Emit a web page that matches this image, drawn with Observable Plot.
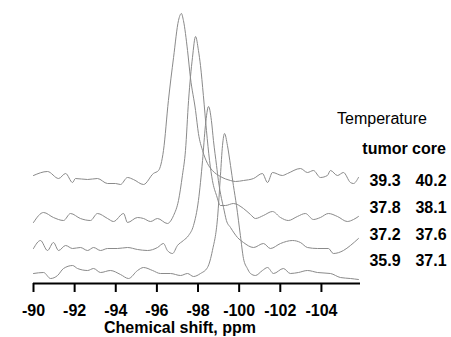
<!DOCTYPE html>
<html>
<head>
<meta charset="utf-8">
<script src="https://cdn.jsdelivr.net/npm/d3@7"></script>
<script src="https://cdn.jsdelivr.net/npm/@observablehq/plot@0.6"></script>
<style>
  body { margin: 0; background: #fff; }
  #chart svg { display: block; }
  #chart svg [aria-label="x-axis tick label"] text { font-weight: bold; font-size: 16px; }
</style>
</head>
<body>
<div id="chart"></div>
<script>
// Chemical shift ticks (ppm)
const tickValues = [-90, -92, -94, -96, -98, -100, -102, -104];

// Temperature labels (tumor / core), top trace to bottom trace
const tumorTemps = ["39.3", "37.8", "37.2", "35.9"];
const coreTemps  = ["40.2", "38.1", "37.6", "37.1"];
const seriesNames = ["39.3/40.2", "37.8/38.1", "37.2/37.6", "35.9/37.1"];

// Vertical stacking offsets of each spectrum (arbitrary intensity units)
const stackOffsets = [106, 66, 36, 11];

// Spectrum 1 (tumor 39.3, core 40.2)
const shift1 = [-90.00,-90.68,-91.22,-91.56,-91.90,-92.04,-92.63,-93.11,-93.60,-93.99,-94.23,-94.57,-94.86,-95.35,-95.83,-96.08,-96.32,-96.56,-96.81,-97.05,-97.19,-97.29,-97.49,-97.63,-97.88,-98.02,-98.22,-98.46,-98.70,-99.09,-99.58,-99.82,-100.21,-100.70,-101.13,-101.38,-101.62,-102.10,-102.35,-102.98,-103.32,-103.61,-103.95,-104.29,-104.44,-104.78,-105.07,-105.41,-105.56,-105.80];
const int1 = [2,6,-1,4,-5,-1,-2,-1,-6,-6,-7,0,-2,-7,4,7,27,77,120,157,164,157,127,100,67,44,27,14,7,1,-3,-4,-3,-1,4,-5,5,2,4,9,5,7,0,2,7,2,5,-5,-6,0];

// Spectrum 2 (tumor 37.8, core 38.1)
const shift2 = [-90.00,-90.49,-90.97,-91.46,-91.80,-92.28,-92.77,-93.11,-93.60,-93.89,-94.38,-94.57,-95.06,-95.35,-95.69,-96.03,-96.51,-96.81,-97.05,-97.24,-97.39,-97.54,-97.73,-97.88,-98.02,-98.12,-98.26,-98.41,-98.56,-98.70,-98.90,-99.09,-99.33,-99.72,-100.21,-100.55,-100.79,-101.18,-101.62,-102.01,-102.39,-102.83,-103.22,-103.61,-103.95,-104.34,-104.78,-105.26,-105.56,-105.80];
const int2 = [-5,5,0,-3,4,-1,-3,4,-1,-4,4,-5,0,-1,-4,-1,-6,2,17,42,67,117,160,181,167,152,122,87,57,37,22,12,12,14,9,3,-1,2,6,0,-3,1,4,-2,0,4,1,-4,-2,1];

// Spectrum 3 (tumor 37.2, core 37.6)
const shift3 = [-90.00,-90.34,-90.68,-90.97,-91.22,-91.56,-91.90,-92.28,-92.63,-92.92,-93.26,-93.60,-94.08,-94.57,-95.06,-95.54,-96.03,-96.32,-96.51,-96.76,-97.00,-97.29,-97.54,-97.78,-98.02,-98.22,-98.36,-98.51,-98.65,-98.75,-98.90,-98.99,-99.14,-99.24,-99.38,-99.58,-99.92,-100.21,-100.70,-101.18,-101.52,-102.01,-102.59,-102.98,-103.32,-103.81,-104.34,-104.58,-105.07,-105.41,-105.80];
const int3 = [-1,7,-3,5,-3,2,-1,0,-3,0,-3,-1,-1,0,-2,-3,0,4,-3,-6,2,7,12,22,47,87,122,141,127,107,82,67,49,40,27,20,10,5,0,4,-1,4,7,5,0,-1,-1,-6,-3,2,9];

// Spectrum 4 (tumor 35.9, core 37.1)
const shift4 = [-90.00,-90.49,-90.83,-91.17,-91.46,-91.90,-92.14,-92.63,-92.92,-93.26,-93.74,-94.23,-94.62,-95.06,-95.35,-95.79,-96.17,-96.66,-97.15,-97.49,-97.78,-98.12,-98.46,-98.70,-98.95,-99.09,-99.19,-99.29,-99.43,-99.58,-99.72,-99.87,-100.06,-100.21,-100.40,-100.55,-100.79,-101.13,-101.38,-101.67,-102.15,-102.49,-102.88,-103.32,-103.81,-104.44,-104.92,-105.41,-105.80];
const int4 = [-1,0,-6,-3,4,7,4,2,4,0,2,-2,-6,2,5,2,-1,-1,-3,-1,-4,-1,5,22,55,97,127,139,127,107,87,67,37,14,4,-1,-3,2,5,-1,4,-1,0,2,0,-1,-5,-6,-7];

const shifts = [shift1, shift2, shift3, shift4];
const intensities = [int1, int2, int3, int4];

const rows = [];
shifts.forEach((s, k) => {
  s.forEach((v, i) => rows.push({series: seriesNames[k], shift: v, value: intensities[k][i] + stackOffsets[k]}));
});

const font = "'Liberation Sans', Arial, sans-serif";

const chart = Plot.plot({
  width: 451,
  height: 337,
  marginLeft: 33,
  marginRight: 91,
  marginTop: 0,
  marginBottom: 54,
  style: {fontFamily: font, background: "#fff", color: "#000", overflow: "visible"},
  x: {domain: [-90, -105.9]},
  y: {domain: [0, 283], axis: null},
  marks: [
    Plot.line(rows, {x: "shift", y: "value", z: "series", stroke: "#8a8a8a", strokeWidth: 1, curve: "monotone-x"}),
    Plot.ruleY([0], {stroke: "#000", strokeWidth: 2}),
    Plot.axisX({ticks: tickValues, tickFormat: d => String(d), tickSize: 9, tickPadding: 12, strokeWidth: 2, fontSize: 16, fontWeight: "bold", label: null})
  ]
});

document.getElementById("chart").appendChild(chart);

// Annotations
const svg = d3.select(chart);
const addText = (x, y, txt, weight, anchor) => svg.append("text")
  .attr("x", x).attr("y", y)
  .attr("text-anchor", anchor || "middle")
  .attr("font-family", font)
  .attr("font-size", 16)
  .attr("font-weight", weight)
  .attr("fill", "#000")
  .text(txt);

addText(180, 333, "Chemical shift, ppm", "bold");
addText(382, 124, "Temperature", "normal");
addText(385, 154, "tumor", "bold");
addText(429, 154, "core", "bold");
const rowY = [186, 213, 240, 266];
tumorTemps.forEach((t, i) => addText(385, rowY[i], t, "bold"));
coreTemps.forEach((t, i) => addText(431, rowY[i], t, "bold"));
</script>
</body>
</html>
